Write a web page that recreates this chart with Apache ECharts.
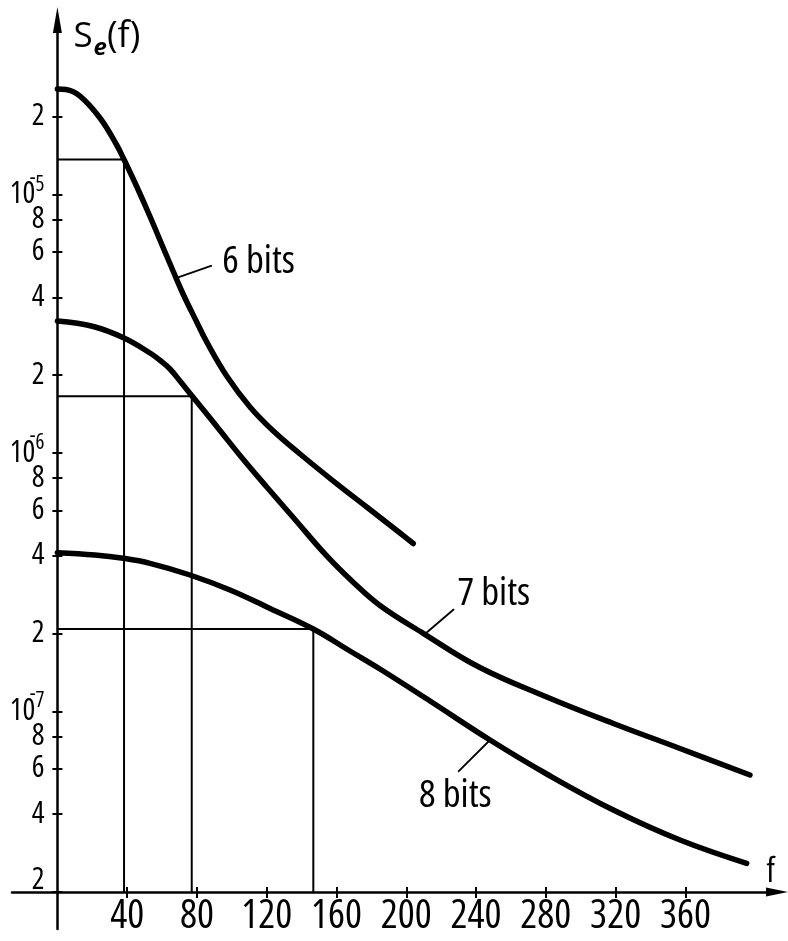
<!DOCTYPE html>
<html><head><meta charset="utf-8">
<script src="https://cdn.jsdelivr.net/npm/echarts@6/dist/echarts.min.js"></script>
<style>html,body{margin:0;padding:0;background:#fff}#c{width:788px;height:941px}</style>
</head><body><div id="c"></div>
<script>
const FAM = "'Open Sans','Roboto Condensed','DejaVu Sans Condensed',sans-serif";
const STRETCH = 'condensed';

// axis ranges
const xMin = 0, xMax = 412.5;
const yMin = 2e-8, yMax = 4.74e-5;
const stubMin = -26.08; // left reach of the axis cross below the origin

// tick values
const xTicks = [40, 80, 120, 160, 200, 240, 280, 320, 360];
const yTicks = [2e-5, 1e-5, 8e-6, 6e-6, 4e-6, 2e-6, 1e-6, 8e-7, 6e-7, 4e-7, 2e-7, 1e-7, 8e-8, 6e-8, 4e-8, 2e-8];

// curve 6 bits
const f6 = [0, 4.93, 12.96, 24.42, 33.99, 38.18, 45.46, 53.08, 60.71, 66.44, 72.17, 79.85, 85.58, 97.05, 110.4, 123.8, 139.1, 158.2, 177.3, 196.4, 204.0];
const s6 = [2.563e-5, 2.552e-5, 2.407e-5, 1.979e-5, 1.556e-5, 1.367e-5, 1.075e-5, 8.229e-6, 6.214e-6, 5.040e-6, 4.106e-6, 3.214e-6, 2.690e-6, 1.986e-6, 1.507e-6, 1.216e-6, 9.911e-7, 7.788e-7, 6.180e-7, 4.903e-7, 4.465e-7];

// curve 7 bits
const f7 = [0, 20.58, 38.18, 53.08, 58.96, 64.55, 70.28, 76.99, 87.48, 93.21, 106.6, 120.0, 135.2, 154.4, 169.4, 184.9, 209.7, 242.2, 280.5, 318.7, 356.9, 397.0];
const s7 = [3.242e-6, 3.087e-6, 2.786e-6, 2.438e-6, 2.280e-6, 2.114e-6, 1.899e-6, 1.669e-6, 1.366e-6, 1.222e-6, 9.436e-7, 7.385e-7, 5.628e-7, 3.995e-7, 3.168e-7, 2.570e-7, 2.005e-7, 1.478e-7, 1.137e-7, 8.977e-8, 7.186e-8, 5.673e-8];

// curve 8 bits
const f8 = [0, 21.55, 37.78, 53.08, 76.01, 98.94, 121.9, 146.7, 167.7, 184.9, 213.6, 248.0, 280.5, 318.7, 356.9, 395.1];
const s8 = [4.113e-7, 4.030e-7, 3.913e-7, 3.742e-7, 3.372e-7, 2.950e-7, 2.502e-7, 2.084e-7, 1.713e-7, 1.459e-7, 1.097e-7, 7.750e-8, 5.724e-8, 4.152e-8, 3.178e-8, 2.582e-8];

// cut-off markers (f, Se)
const cutF = [38.2, 77.0, 146.7];
const cutS = [1.367e-5, 1.66e-6, 2.084e-7];

// curve names and leader anchors (data coords)
const names = ['6 bits', '7 bits', '8 bits'];
const leadFrom = [[67.98, 4.755e-6], [210.7, 1.993e-7], [248.0, 7.75e-8]];
const leadTo = [[88.45, 5.307e-6], [227.3, 2.484e-7], [229.8, 5.843e-8]];

const pair = (a, b) => a.map((v, i) => [v, b[i]]);
const curves = [pair(f6, s6), pair(f7, s7), pair(f8, s8)];

function yLabel(v) {
  const e = Math.log10(v);
  const r = Math.round(e);
  if (Math.abs(e - r) < 1e-6) return '{t|10}{sm|-}{s|' + Math.abs(r) + '}';
  const d = Math.round(v / Math.pow(10, Math.floor(e + 1e-9)));
  if (Math.abs(v - yMin) / yMin < 1e-6) return '{low|' + d + '}';
  return '{m|' + d + '}';
}

const black = '#000';
const txt = (size, extra) => Object.assign({ fontSize: size, fontFamily: FAM, fontStyle: STRETCH, color: black }, extra || {});

const labelPos = [
  { position: 'right', distance: 10, offset: [0, -4] },
  { position: 'right', distance: 3, offset: [0, -15] },
  { position: 'bottom', distance: 4, offset: [-3, 0] }
];

const series = [];
cutF.forEach((cf, i) => {
  series.push({
    type: 'line', xAxisIndex: 0, yAxisIndex: 0, silent: true,
    data: [[0, cutS[i]], [cf, cutS[i]], [cf, yMin]],
    showSymbol: false, lineStyle: { color: black, width: 2 }, z: 3
  });
});
curves.forEach((d) => {
  series.push({
    type: 'line', xAxisIndex: 0, yAxisIndex: 0, silent: true,
    data: d, smooth: 0.4, showSymbol: false,
    lineStyle: { color: black, width: 5.5, cap: 'round' }, z: 5
  });
});
names.forEach((n, i) => {
  series.push({
    type: 'line', xAxisIndex: 0, yAxisIndex: 0, silent: true,
    symbol: 'circle', symbolSize: 1, showSymbol: true,
    itemStyle: { color: black },
    lineStyle: { color: black, width: 1.8 }, z: 4,
    data: [leadFrom[i], {
      value: leadTo[i],
      label: Object.assign(txt(39, { show: true, formatter: n }), labelPos[i])
    }]
  });
});

const axLine = { show: true, lineStyle: { color: black, width: 2.5 } };
const noAxis = { show: false };

const option = {
  animation: false,
  backgroundColor: '#fff',
  grid: [
    { left: 57.4, right: 11, top: 20, bottom: 49, outerBoundsMode: 'none', containLabel: false },
    { left: 12, right: 11, top: 892, height: 37, outerBoundsMode: 'none', containLabel: false },
    { left: 12, width: 45.4, top: 880, height: 12, outerBoundsMode: 'none', containLabel: false }
  ],
  xAxis: [
    {
      type: 'value', gridIndex: 0, min: xMin, max: xMax, position: 'bottom',
      axisLine: Object.assign({}, axLine, { onZero: false, symbol: ['none', 'triangle'], symbolSize: [9, 22] }),
      axisTick: { show: true, customValues: xTicks, length: 6, lineStyle: { color: black, width: 2 } },
      axisLabel: Object.assign(txt(40), { show: true, customValues: xTicks, margin: 5, hideOverlap: false }),
      splitLine: { show: false },
      name: 'f', nameLocation: 'end', nameGap: -2, nameMoveOverlap: false,
      nameTextStyle: txt(34, { align: 'right', verticalAlign: 'bottom', padding: [0, 0, 3, 0] })
    },
    {
      type: 'value', gridIndex: 0, min: xMin, max: xMax, position: 'bottom',
      axisLine: { show: false, onZero: false },
      axisTick: { show: true, inside: true, customValues: xTicks, length: 5, lineStyle: { color: black, width: 2 } },
      axisLabel: { show: false }, splitLine: { show: false }
    },
    {
      type: 'value', gridIndex: 1, min: stubMin, max: xMax, position: 'bottom',
      axisLine: { show: false, onZero: false }, axisTick: noAxis, axisLabel: noAxis, splitLine: noAxis
    },
    {
      type: 'value', gridIndex: 2, min: 0, max: 1, position: 'bottom',
      axisLine: Object.assign({}, axLine, { onZero: false }),
      axisTick: noAxis, axisLabel: noAxis, splitLine: noAxis
    }
  ],
  yAxis: [
    {
      type: 'log', logBase: 10, gridIndex: 0, min: yMin, max: yMax, position: 'left',
      axisLine: Object.assign({}, axLine, { onZero: false, symbol: ['none', 'triangle'], symbolSize: [9, 26] }),
      axisTick: { show: true, customValues: yTicks, length: 5, lineStyle: { color: black, width: 2 } },
      axisLabel: Object.assign(txt(30), {
        show: true, customValues: yTicks, formatter: yLabel, margin: 13, hideOverlap: false,
        rich: {
          m: txt(30),
          t: txt(30, { width: 20, align: 'left' }),
          sm: txt(21, { padding: [0, 0, 34, 0] }),
          s: txt(21, { padding: [0, 0, 20, 0] }),
          low: txt(30, { padding: [0, 0, 23, 0] })
        }
      }),
      splitLine: { show: false }, minorSplitLine: { show: false },
      name: '{S|S}{e|e}{p|(f)}', nameLocation: 'end', nameGap: 6, nameMoveOverlap: false,
      nameTextStyle: {
        align: 'left', verticalAlign: 'top', padding: [0, 0, 0, 16],
        rich: {
          S: txt(35, { fontStyle: 'normal' }),
          e: txt(24, { fontStyle: 'italic', fontWeight: 'bold', padding: [22, 0, 0, 1] }),
          p: txt(36, { fontStyle: 'normal' })
        }
      }
    },
    {
      type: 'log', logBase: 10, gridIndex: 0, min: yMin, max: yMax, position: 'left',
      axisLine: { show: false, onZero: false },
      axisTick: { show: true, inside: true, customValues: yTicks, length: 5, lineStyle: { color: black, width: 2 } },
      axisLabel: { show: false }, splitLine: { show: false }
    },
    {
      type: 'value', gridIndex: 1, min: 0, max: 1, position: 'left',
      axisLine: Object.assign({}, axLine, { onZero: true }),
      axisTick: noAxis, axisLabel: noAxis, splitLine: noAxis
    },
    { type: 'value', gridIndex: 2, min: 0, max: 1, show: false }
  ],
  series: series
};

const chart = echarts.init(document.getElementById('c'), null, { renderer: 'canvas' });
chart.setOption(option);
</script>
</body></html>
